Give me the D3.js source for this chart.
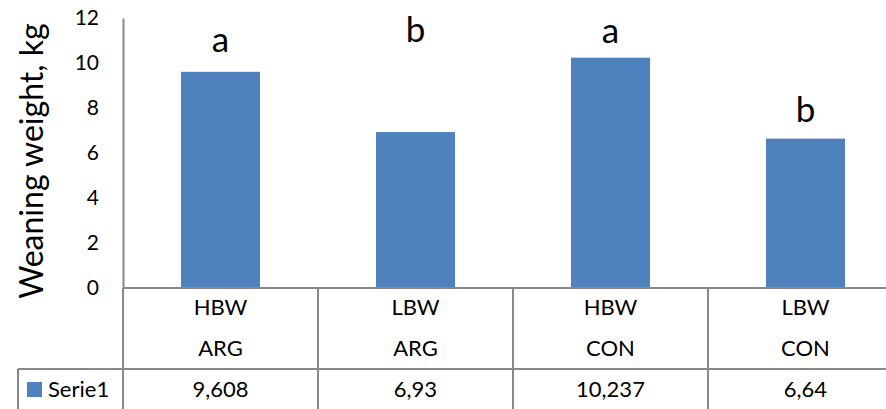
<!DOCTYPE html>
<html>
<head>
<meta charset="utf-8">
<script src="https://cdn.jsdelivr.net/npm/d3@7"></script>
<style>
  body { margin: 0; background: #fff; }
  svg { display: block; }
</style>
</head>
<body>
<div id="chart"></div>
<script>
const categories = ["HBW ARG", "LBW ARG", "HBW CON", "LBW CON"];
const rowOne = ["HBW", "LBW", "HBW", "LBW"];
const rowTwo = ["ARG", "ARG", "CON", "CON"];
const values = [9.608, 6.93, 10.237, 6.64];
const valueLabels = ["9,608", "6,93", "10,237", "6,64"];
const letters = ["a", "b", "a", "b"];
const letterLevels = [10.5, 10.95, 10.9, 7.4];
const yTicks = [0, 2, 4, 6, 8, 10, 12];
const seriesName = "Serie1";

const width = 886, height = 409;
const font = "Lato, 'Open Sans', sans-serif";
const grey = "#898989";
const blue = "#4F81BD";

const svg = d3.select("#chart").append("svg")
    .attr("width", width)
    .attr("height", height);

const x = d3.scaleBand()
    .domain(categories)
    .range([123, 903])
    .paddingInner(0.595)
    .paddingOuter(0.2975);

const y = d3.scaleLinear()
    .domain([0, 12])
    .range([288, 18]);

const step = x.step();
const bandLeft = d => x(d) - x.paddingOuter() * step;
const cx = i => x(categories[i]) + x.bandwidth() / 2;

// bars
svg.append("g")
    .selectAll("rect")
    .data(values)
    .join("rect")
    .attr("x", (d, i) => x(categories[i]))
    .attr("y", d => y(d))
    .attr("width", x.bandwidth())
    .attr("height", d => y(0) - y(d))
    .attr("fill", blue);

// significance letters
svg.append("g")
    .selectAll("text")
    .data(letters)
    .join("text")
    .attr("x", (d, i) => cx(i))
    .attr("y", (d, i) => y(letterLevels[i]))
    .attr("text-anchor", "middle")
    .style("font", `35px ${font}`)
    .text(d => d);

// y axis
const yAxis = svg.append("g")
    .attr("transform", "translate(123,0)")
    .call(d3.axisLeft(y).tickValues(yTicks).tickSize(0).tickPadding(24));
yAxis.select(".domain").attr("stroke", grey).attr("stroke-width", 2);
yAxis.selectAll("text")
    .style("font", `21px ${font}`)
    .attr("fill", "#000");

// y title
svg.append("text")
    .attr("transform", "translate(43,161) rotate(-90)")
    .attr("text-anchor", "middle")
    .style("font", `32px ${font}`)
    .text("Weaning weight, kg");

// data table
const table = svg.append("g").attr("stroke", grey).attr("stroke-width", 2);
table.append("line")
    .attr("x1", 123).attr("x2", width)
    .attr("y1", y(0)).attr("y2", y(0));
table.append("line")
    .attr("x1", 18).attr("x2", width)
    .attr("y1", 369).attr("y2", 369);
table.append("line")
    .attr("x1", 18).attr("x2", 18)
    .attr("y1", 369).attr("y2", height);
table.selectAll(".sep")
    .data(categories)
    .join("line")
    .attr("class", "sep")
    .attr("x1", d => bandLeft(d)).attr("x2", d => bandLeft(d))
    .attr("y1", y(0)).attr("y2", height);

const cell = svg.append("g").style("font", `22px ${font}`).attr("text-anchor", "middle");
cell.selectAll(".r1").data(rowOne).join("text").attr("class", "r1")
    .attr("x", (d, i) => cx(i)).attr("y", 315).text(d => d);
cell.selectAll(".r2").data(rowTwo).join("text").attr("class", "r2")
    .attr("x", (d, i) => cx(i)).attr("y", 356).text(d => d);
cell.selectAll(".r3").data(valueLabels).join("text").attr("class", "r3")
    .attr("x", (d, i) => cx(i)).attr("y", 397).text(d => d);

// legend key
svg.append("rect")
    .attr("x", 27).attr("y", 382)
    .attr("width", 15).attr("height", 15)
    .attr("fill", blue);
svg.append("text")
    .attr("x", 48).attr("y", 397)
    .style("font", `22px ${font}`)
    .text(seriesName);
</script>
</body>
</html>
